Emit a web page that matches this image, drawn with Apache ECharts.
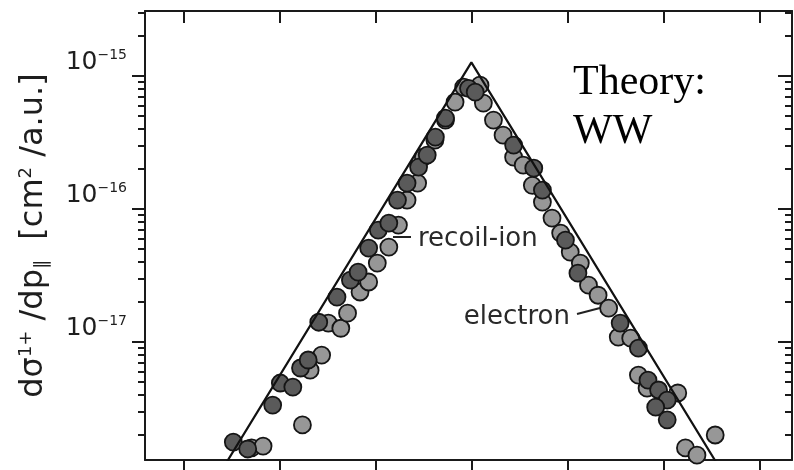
<!DOCTYPE html>
<html>
<head>
<meta charset="utf-8">
<script src="https://cdn.jsdelivr.net/npm/echarts@6.0.0/dist/echarts.min.js"></script>
<style>
html, body { margin: 0; padding: 0; background: #fff; }
#chart { width: 794px; height: 470px; }
</style>
</head>
<body>
<div id="chart"></div>
<script>
var myChart = echarts.init(document.getElementById('chart'));

// p_parallel positions of the axis ticks (no labels visible)
var xTicks = [-3, -2, -1, 0, 1, 2, 3];
// major decades of the log axis
var yMajor = [1e-17, 1e-16, 1e-15];

// electron data (light grey)
var electronX = [-2.29, -2.17, -1.76, -1.68, -1.56, -1.49, -1.36, -1.29, -1.16, -1.07, -0.98, -0.86, -0.76, -0.67, -0.56, -0.50, -0.38, -0.27, -0.17, -0.08,
                 0.09, 0.125, 0.23, 0.33, 0.44, 0.54, 0.635, 0.74, 0.84, 0.93, 1.03, 1.135, 1.22, 1.32, 1.43, 1.53, 1.66, 1.74, 1.83, 2.15, 2.54, 2.23, 2.35];
var electronY = [1.6e-18, 1.65e-18, 2.38e-18, 6.15e-18, 7.98e-18, 1.39e-17, 1.27e-17, 1.65e-17, 2.38e-17, 2.83e-17, 3.93e-17, 5.18e-17, 7.58e-17, 1.17e-16, 1.57e-16, 2.46e-16, 3.3e-16, 4.67e-16, 6.38e-16, 8.26e-16,
                 8.56e-16, 6.27e-16, 4.67e-16, 3.6e-16, 2.46e-16, 2.14e-16, 1.51e-16, 1.13e-16, 8.56e-17, 6.6e-17, 4.75e-17, 3.93e-17, 2.68e-17, 2.25e-17, 1.8e-17, 1.09e-17, 1.07e-17, 5.65e-18, 4.5e-18, 4.14e-18, 2.0e-18, 1.6e-18, 1.41e-18];

// recoil-ion data (dark grey)
var recoilX = [-2.48, -2.33, -2.07, -1.99, -1.86, -1.78, -1.70, -1.59, -1.40, -1.26, -1.18, -1.07, -0.97, -0.86, -0.77, -0.67, -0.55, -0.46, -0.375, -0.27, -0.03, 0.04,
               0.44, 0.65, 0.74, 0.98, 1.11, 1.55, 1.74, 1.84, 1.95, 2.04, 1.92, 2.04];
var recoilY = [1.77e-18, 1.57e-18, 3.36e-18, 4.92e-18, 4.59e-18, 6.38e-18, 7.33e-18, 1.41e-17, 2.18e-17, 2.92e-17, 3.36e-17, 5.09e-17, 6.95e-17, 7.85e-17, 1.17e-16, 1.57e-16, 2.07e-16, 2.55e-16, 3.48e-16, 4.83e-16, 8.1e-16, 7.58e-16,
               3.03e-16, 2.03e-16, 1.39e-16, 5.85e-17, 3.3e-17, 1.39e-17, 9.0e-18, 5.18e-18, 4.36e-18, 3.66e-18, 3.24e-18, 2.6e-18];

// theory (WW) curve
var theoryX = [-2.7, 0, 2.7];
var theoryY = [8.3e-19, 1.27e-15, 8.3e-19];

function pairs(xs, ys) {
    var res = [];
    for (var i = 0; i < xs.length; i++) res.push([xs[i], ys[i]]);
    return res;
}

// minor ticks of the log axis: 2..9 x 10^n
var yMinor = [];
[-18, -17, -16, -15].forEach(function(e) {
    for (var m = 2; m <= 9; m++) yMinor.push(m * Math.pow(10, e));
});

var yMin = Math.pow(10, -17.887),
    yMax = Math.pow(10, -14.51);
var lineColor = '#1a1a1a';
var textColor = '#1e1e1e';
var sansFont = '"DejaVu Sans", sans-serif';

var baseY = {
    type: 'log',
    logBase: 10,
    min: yMin,
    max: yMax,
    splitLine: { show: false },
    axisLabel: { show: false },
    axisLine: { show: false, onZero: false },
    axisTick: { show: true }
};
function yAxisCfg(extra) {
    return echarts.util.merge(echarts.util.clone(baseY), extra, true);
}

option = {
    backgroundColor: '#fff',
    animation: false,
    grid: { left: 145, right: 2, top: 11, bottom: 10, outerBoundsMode: 'none' },
    xAxis: [{
        type: 'value',
        position: 'bottom',
        min: -3.4,
        max: 3.34,
        splitLine: { show: false },
        axisLabel: { show: false },
        axisLine: { show: true, onZero: false, lineStyle: { color: lineColor, width: 2 } },
        axisTick: { show: true, customValues: xTicks, length: 11, lineStyle: { color: lineColor, width: 2 } }
    }, {
        type: 'value',
        position: 'top',
        min: -3.4,
        max: 3.34,
        splitLine: { show: false },
        axisLabel: { show: false },
        axisLine: { show: true, onZero: false, lineStyle: { color: lineColor, width: 2 } },
        axisTick: { show: true, inside: true, customValues: xTicks, length: 12, lineStyle: { color: lineColor, width: 2 } }
    }],
    yAxis: [
        yAxisCfg({
            position: 'left',
            name: 'dσ{sup|1+} /dp{sub|∥}  [cm{sup|2} /a.u.]',
            nameLocation: 'middle',
            nameRotate: 90,
            nameGap: 94,
            nameTextStyle: {
                fontFamily: sansFont, fontSize: 32, color: textColor,
                rich: {
                    sup: { fontFamily: sansFont, fontSize: 18, color: textColor, verticalAlign: 'bottom', padding: [0, 0, 16, 0] },
                    sub: { fontFamily: sansFont, fontSize: 18, color: textColor, verticalAlign: 'bottom', padding: [0, 0, 0, 0] }
                }
            },
            axisLine: { show: true, onZero: false, lineStyle: { color: lineColor, width: 2 } },
            axisTick: { customValues: yMajor, length: 13, lineStyle: { color: lineColor, width: 2 } },
            axisLabel: {
                show: true,
                customValues: yMajor,
                margin: 18,
                color: textColor,
                fontFamily: sansFont,
                fontSize: 25,
                verticalAlign: 'bottom',
                formatter: function(v) {
                    var e = Math.round(Math.log(v) / Math.LN10);
                    return '10{sup|−' + (-e) + '}';
                },
                rich: {
                    sup: { fontFamily: sansFont, fontSize: 14, color: textColor, verticalAlign: 'bottom', padding: [0, 0, 14, 0] }
                }
            }
        }),
        yAxisCfg({
            position: 'left',
            axisTick: { customValues: yMinor, length: 7, lineStyle: { color: lineColor, width: 2 } }
        }),
        yAxisCfg({
            position: 'right',
            axisLine: { show: true, onZero: false, lineStyle: { color: lineColor, width: 2 } },
            axisTick: { inside: true, customValues: yMajor, length: 14, lineStyle: { color: lineColor, width: 2 } }
        }),
        yAxisCfg({
            position: 'right',
            axisTick: { inside: true, customValues: yMinor, length: 7, lineStyle: { color: lineColor, width: 2 } }
        })
    ],
    series: [{
        name: 'electron',
        type: 'scatter',
        xAxisIndex: 0,
        yAxisIndex: 0,
        symbolSize: 17,
        data: pairs(electronX, electronY),
        itemStyle: { color: '#979797', borderColor: '#151515', borderWidth: 1.8, opacity: 1 }
    }, {
        name: 'recoil-ion',
        type: 'scatter',
        xAxisIndex: 0,
        yAxisIndex: 0,
        symbolSize: 17,
        data: pairs(recoilX, recoilY),
        itemStyle: { color: '#5a5a5a', borderColor: '#151515', borderWidth: 1.8, opacity: 1 }
    }, {
        name: 'WW',
        type: 'line',
        xAxisIndex: 0,
        yAxisIndex: 0,
        showSymbol: false,
        symbol: 'none',
        clip: true,
        z: 5,
        data: pairs(theoryX, theoryY),
        lineStyle: { color: '#111', width: 2.2 }
    }],
    graphic: [
        { type: 'text', left: 573, top: 62, style: { text: 'Theory:', font: '42px "Liberation Serif", serif', fill: '#000' } },
        { type: 'text', left: 573, top: 111, style: { text: 'WW', font: '42px "Liberation Serif", serif', fill: '#000' } },
        { type: 'line', shape: { x1: 393, y1: 237, x2: 411, y2: 237 }, style: { stroke: '#222', lineWidth: 2 } },
        { type: 'text', left: 418, top: 226, style: { text: 'recoil-ion', font: '26px "DejaVu Sans", sans-serif', fill: '#2a2a2a' } },
        { type: 'line', shape: { x1: 577, y1: 314, x2: 600, y2: 308 }, style: { stroke: '#222', lineWidth: 2 } },
        { type: 'text', right: 224, top: 304, style: { text: 'electron', font: '26px "DejaVu Sans", sans-serif', fill: '#2a2a2a' } }
    ]
};
myChart.setOption(option);
</script>
</body>
</html>
